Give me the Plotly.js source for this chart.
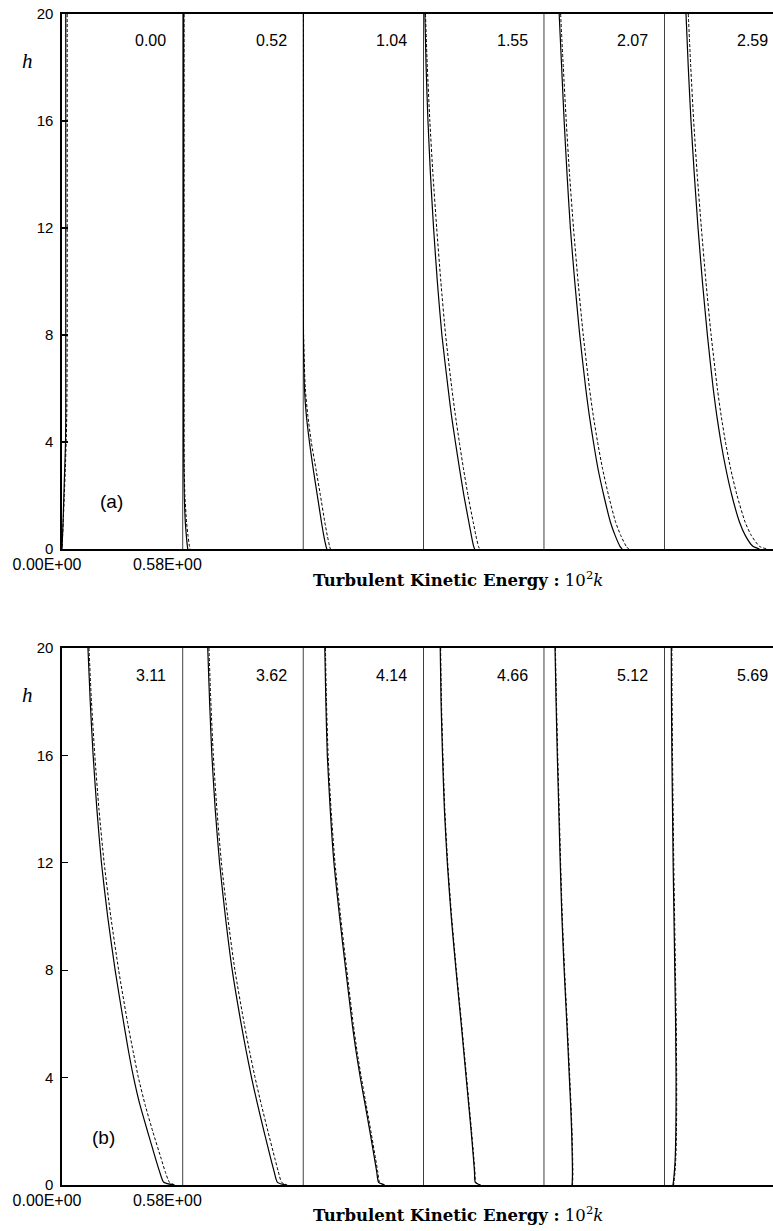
<!DOCTYPE html>
<html>
<head>
<meta charset="utf-8">
<script src="https://cdn.plot.ly/plotly-3.0.1.min.js"></script>
<style>html,body{margin:0;padding:0;background:#fff;}#chart{width:773px;height:1231px;}</style>
</head>
<body>
<div id="chart"></div>
<script>
// ---------- DATA ----------
const H = [20, 18, 16, 14, 12, 10, 8, 6, 5, 4, 3, 2, 1, 0.5, 0.1, 0];
const timesA = ['0.00', '0.52', '1.04', '1.55', '2.07', '2.59'];
const timesB = ['3.11', '3.62', '4.14', '4.66', '5.12', '5.69'];
const xTickVals = [0, 0.58];
const xTickText = ['0.00E+00', '0.58E+00'];
const yTickVals = [0, 4, 8, 12, 16, 20];

// solid / dashed k profiles (10^2 k) at each h in H
const solid_000  = [0.018,0.018,0.018,0.018,0.018,0.018,0.018,0.018,0.018,0.017,0.013,0.009,0.005,0.0025,0.0006,0];
const dashed_000 = [0.025,0.025,0.025,0.025,0.025,0.025,0.025,0.024,0.023,0.020,0.016,0.011,0.006,0.003,0.001,0];
const solid_052  = [0.006,0.006,0.006,0.006,0.006,0.006,0.006,0.006,0.006,0.006,0.007,0.009,0.014,0.019,0.024,0.026];
const dashed_052 = [0.008,0.008,0.008,0.008,0.008,0.008,0.008,0.008,0.008,0.008,0.009,0.012,0.020,0.027,0.034,0.037];
const solid_104  = [0.002,0.002,0.002,0.002,0.002,0.002,0.003,0.008,0.017,0.032,0.050,0.070,0.090,0.101,0.112,0.116];
const dashed_104 = [0.003,0.003,0.003,0.003,0.003,0.003,0.004,0.012,0.024,0.041,0.063,0.085,0.106,0.118,0.129,0.133];
const solid_155  = [0.008,0.014,0.023,0.035,0.050,0.068,0.090,0.120,0.136,0.155,0.175,0.196,0.220,0.232,0.243,0.248];
const dashed_155 = [0.011,0.020,0.032,0.047,0.065,0.085,0.108,0.138,0.155,0.174,0.194,0.216,0.241,0.254,0.266,0.272];
const solid_207  = [0.075,0.087,0.099,0.113,0.129,0.150,0.174,0.203,0.220,0.240,0.262,0.290,0.322,0.345,0.368,0.378];
const dashed_207 = [0.082,0.095,0.109,0.125,0.144,0.166,0.191,0.221,0.239,0.260,0.284,0.313,0.347,0.372,0.398,0.410];
const solid_259  = [0.106,0.117,0.130,0.146,0.164,0.185,0.209,0.237,0.254,0.274,0.298,0.327,0.364,0.392,0.428,0.460];
const dashed_259 = [0.117,0.129,0.143,0.160,0.180,0.202,0.227,0.257,0.275,0.296,0.321,0.352,0.391,0.421,0.460,0.495];

const solid_311  = [0.125,0.136,0.150,0.168,0.190,0.220,0.256,0.298,0.320,0.345,0.375,0.412,0.450,0.470,0.490,0.540];
const dashed_311 = [0.130,0.142,0.158,0.178,0.203,0.235,0.273,0.317,0.342,0.368,0.400,0.437,0.477,0.497,0.518,0.545];
const solid_362  = [0.122,0.131,0.142,0.158,0.179,0.207,0.240,0.283,0.307,0.333,0.362,0.393,0.425,0.442,0.458,0.500];
const dashed_362 = [0.128,0.137,0.149,0.166,0.188,0.218,0.253,0.298,0.323,0.350,0.380,0.412,0.445,0.462,0.478,0.505];
const solid_414  = [0.106,0.111,0.118,0.132,0.150,0.177,0.207,0.238,0.256,0.277,0.300,0.323,0.345,0.356,0.365,0.395];
const dashed_414 = [0.109,0.114,0.122,0.136,0.155,0.182,0.212,0.243,0.261,0.282,0.305,0.328,0.350,0.361,0.370,0.398];
const solid_466  = [0.082,0.086,0.093,0.102,0.116,0.135,0.158,0.183,0.195,0.207,0.219,0.231,0.242,0.247,0.251,0.275];
const dashed_466 = [0.084,0.088,0.095,0.104,0.118,0.137,0.160,0.185,0.197,0.209,0.221,0.233,0.244,0.249,0.253,0.277];
const solid_512  = [0.055,0.060,0.066,0.073,0.080,0.088,0.099,0.112,0.118,0.124,0.130,0.135,0.138,0.139,0.138,0.137];
const dashed_512 = [0.057,0.062,0.068,0.075,0.082,0.090,0.101,0.114,0.120,0.126,0.132,0.137,0.140,0.141,0.140,0.139];
const solid_569  = [0.035,0.036,0.038,0.041,0.044,0.048,0.052,0.056,0.057,0.058,0.058,0.057,0.054,0.050,0.045,0.043];
const dashed_569 = [0.038,0.039,0.041,0.044,0.047,0.051,0.055,0.059,0.060,0.061,0.061,0.060,0.057,0.053,0.048,0.046];

const solidSets  = [solid_000, solid_052, solid_104, solid_155, solid_207, solid_259,
                    solid_311, solid_362, solid_414, solid_466, solid_512, solid_569];
const dashedSets = [dashed_000, dashed_052, dashed_104, dashed_155, dashed_207, dashed_259,
                    dashed_311, dashed_362, dashed_414, dashed_466, dashed_512, dashed_569];
const timeLabels = timesA.concat(timesB);

// ---------- LAYOUT GEOMETRY ----------
const W = 773, HT = 1231;
const left0 = 62, cellW = 120.4, kMax = 0.58;
const rows = [{top: 14, bottom: 549}, {top: 648, bottom: 1185}];
const sansFont = 'Liberation Sans, Arial, sans-serif';
const serifFont = 'DejaVu Serif, Liberation Serif, serif';

const layout = {
  width: W, height: HT,
  margin: {l: 0, r: 0, t: 0, b: 0},
  paper_bgcolor: '#fff', plot_bgcolor: 'rgba(0,0,0,0)',
  showlegend: false,
  shapes: [], annotations: []
};
const traces = [];

for (let i = 0; i < 12; i++) {
  const r = i < 6 ? 0 : 1;
  const c = i % 6;
  const L = left0 + c * cellW;
  const R = Math.min(L + cellW, W);
  const xName = i === 0 ? 'xaxis' : 'xaxis' + (i + 1);
  const xRef = i === 0 ? 'x' : 'x' + (i + 1);
  const yRef = r === 0 ? 'y' : 'y2';
  const ax = {
    domain: [L / W, R / W],
    range: [0, kMax * (R - L) / cellW],
    anchor: yRef,
    showline: true, mirror: true, linecolor: '#000', linewidth: 1.6,
    showgrid: false, zeroline: false, ticks: '',
    fixedrange: true
  };
  if (c === 0) {
    ax.tickmode = 'array';
    ax.tickvals = xTickVals;
    ax.ticktext = xTickText;
    ax.showticklabels = true;
    ax.tickfont = {family: sansFont, size: 16, color: '#000'};
    ax.ticklabelshift = -15;
  } else {
    ax.showticklabels = false;
    layout.shapes.push({
      type: 'line', xref: xRef, yref: yRef,
      x0: 0, x1: 0, y0: 0, y1: 20,
      line: {color: '#000', width: 1.5}
    });
  }
  layout[xName] = ax;

  traces.push({
    type: 'scatter', mode: 'lines',
    x: solidSets[i], y: H, xaxis: xRef, yaxis: yRef,
    line: {color: '#000', width: 1.2, shape: 'spline', smoothing: 0.6},
    hoverinfo: 'skip'
  });
  traces.push({
    type: 'scatter', mode: 'lines',
    x: dashedSets[i], y: H, xaxis: xRef, yaxis: yRef,
    line: {color: '#000', width: 1, dash: '3px,2px', shape: 'spline', smoothing: 0.6},
    hoverinfo: 'skip'
  });

  // time label
  layout.annotations.push({
    xref: 'paper', yref: 'paper',
    x: (L + cellW - 14) / W, y: 1 - (rows[r].top + 27) / HT,
    xanchor: 'right', yanchor: 'middle',
    text: timeLabels[i], showarrow: false,
    font: {family: sansFont, size: 16, color: '#000'}
  });
}

rows.forEach((rw, r) => {
  const yName = r === 0 ? 'yaxis' : 'yaxis2';
  layout[yName] = {
    domain: [1 - rw.bottom / HT, 1 - rw.top / HT],
    range: [0, 20],
    anchor: r === 0 ? 'x' : 'x7',
    tickmode: 'array', tickvals: yTickVals,
    ticks: 'inside', ticklen: 6, tickwidth: 1.2, tickcolor: '#000',
    ticklabelstandoff: 4,
    showline: true, linecolor: '#000', linewidth: 1.6,
    showgrid: false, zeroline: false,
    tickfont: {family: sansFont, size: 15, color: '#000'},
    fixedrange: true
  };
  // h label
  layout.annotations.push({
    xref: 'paper', yref: 'paper',
    x: 27 / W, y: 1 - (rw.top + 47) / HT,
    xanchor: 'center', yanchor: 'middle',
    text: '<i>h</i>', showarrow: false,
    font: {family: 'Liberation Serif, serif', size: 21, color: '#000'}
  });
  // panel letter
  layout.annotations.push({
    xref: 'paper', yref: 'paper',
    x: (r === 0 ? 112 : 103) / W, y: 1 - (r === 0 ? 502 : 1137) / HT,
    xanchor: 'center', yanchor: 'middle',
    text: r === 0 ? '(a)' : '(b)', showarrow: false,
    font: {family: sansFont, size: 19, color: '#000'}
  });
  // axis title
  layout.annotations.push({
    xref: 'paper', yref: 'paper',
    x: 458 / W, y: 1 - (r === 0 ? 579 : 1214) / HT,
    xanchor: 'center', yanchor: 'middle',
    text: '<b>Turbulent Kinetic Energy :</b> 10<sup>2</sup><i>k</i>', showarrow: false,
    font: {family: serifFont, size: 16.5, color: '#000'}
  });
});

Plotly.newPlot('chart', traces, layout, {staticPlot: true, displayModeBar: false});
</script>
</body>
</html>
